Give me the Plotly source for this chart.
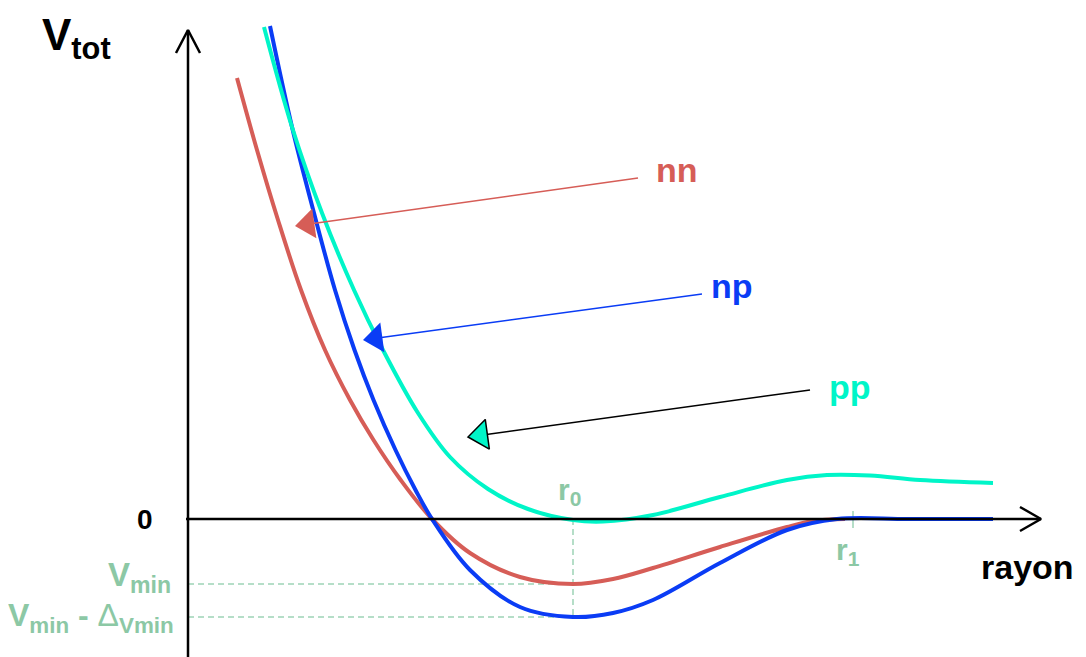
import math
import plotly.graph_objects as go

# Diagram units: the axes cross at (0, 0); 1 unit ~ 1 px of the reference
# curves (r = rayon, v = V_tot)
r_nn = [49, 69, 90, 113, 137, 162, 185.5, 212.7, 244, 282, 332, 385, 425, 465, 532, 599, 625, 657]
v_nn = [441, 369, 299, 229, 169, 119, 79, 39, 0, -34, -58, -65, -60, -49, -28, -8, -2, 0]

r_np = [82, 104, 126, 147, 166.5, 185.5, 207.5, 227.5, 244, 282, 332, 385, 425, 465, 532, 599, 649, 720, 805]
v_np = [493, 392, 306, 229, 169, 119, 69, 29, 0, -51, -88, -98, -94, -81, -44, -11, 0, 0, 0]

r_pp = [76, 104, 134, 166, 195, 230, 262, 300, 340, 385, 415, 465, 532, 599, 639, 682, 732, 805]
v_pp = [492, 392, 306, 229, 169, 106, 62, 30, 10, -1, -2.5, 4, 22, 39, 44, 43.5, 39, 36]

# special points
r0 = 385
r1 = 665
v_min = -65
v_min_delta = -98

# pointer arrows: (label, head colour, line colour, start r, start v, tip r, tip v)
pointers = [
    ("nn", "#d65d57", "#d65d57", 450, 341, 107, 293),
    ("np", "#0a3cf5", "#0a3cf5", 514, 225, 175, 179),
    ("pp", "#00f5c8", "#000000", 622, 129, 280, 82),
]

RED = "#d65d57"
BLUE = "#0a3cf5"
CYAN = "#00f5c8"
GREEN = "#8cc8a5"
GREEN_DASH = "#9dd3b6"
FONT = "Liberation Sans, Arial, sans-serif"

fig = go.Figure()

# dashed guides
guide = dict(color=GREEN_DASH, width=1.5, dash="6px,4px")
fig.add_trace(go.Scatter(x=[0, r0], y=[v_min, v_min], mode="lines", line=guide))
fig.add_trace(go.Scatter(x=[0, r0], y=[v_min_delta, v_min_delta], mode="lines", line=guide))
fig.add_trace(go.Scatter(x=[r0, r0], y=[0, v_min_delta], mode="lines", line=guide))
fig.add_trace(go.Scatter(x=[r1, r1], y=[-9, 8], mode="lines", line=dict(color=GREEN_DASH, width=1.5)))

# curves
for rr, vv, col in [(r_nn, v_nn, RED), (r_np, v_np, BLUE), (r_pp, v_pp, CYAN)]:
    fig.add_trace(go.Scatter(x=rr, y=vv, mode="lines",
                             line=dict(color=col, width=4, shape="spline", smoothing=1)))

# axes with open arrow heads
ax = dict(color="black", width=2.5)
fig.add_trace(go.Scatter(x=[0, 0], y=[-150, 489], mode="lines", line=ax))
fig.add_trace(go.Scatter(x=[-12, 0, 12], y=[466, 489, 466], mode="lines", line=ax))
fig.add_trace(go.Scatter(x=[-2, 853], y=[0, 0], mode="lines", line=ax))
fig.add_trace(go.Scatter(x=[832, 853, 832], y=[12, 0, -12], mode="lines", line=ax))

# pointer arrows
head = 26
for name, col, lcol, x0, y0, x1, y1 in pointers:
    dx, dy = x1 - x0, y1 - y0
    n = math.hypot(dx, dy)
    cx, cy = x1 - dx / n * head / 2, y1 - dy / n * head / 2
    ang = math.degrees(math.atan2(dy, -dx))
    fig.add_trace(go.Scatter(x=[x0, cx], y=[y0, cy], mode="lines", line=dict(color=lcol, width=1.5)))
    fig.add_trace(go.Scatter(
        x=[cx], y=[cy], mode="markers",
        marker=dict(symbol="triangle-left", size=head, angle=ang, color=col,
                    line=dict(color=lcol, width=1.5 if name == "pp" else 0)),
    ))

annots = [
    dict(x=466, y=349.5, text="<b>nn</b>", color=RED, size=34, xanchor="left"),
    dict(x=521, y=233.5, text="<b>np</b>", color=BLUE, size=34, xanchor="left"),
    dict(x=639, y=132, text="<b>pp</b>", color=CYAN, size=34, xanchor="left"),
    dict(x=791, y=-48, text="<b>rayon</b>", color="black", size=34, xanchor="left"),
    dict(x=-33, y=0, text="<b>0</b>", color="black", size=28, xanchor="right"),
    dict(x=-148, y=481, text="<b>V<sub>tot</sub></b>", color="black", size=44, xanchor="left"),
    dict(x=-15, y=-58, text="<b>V<sub>min</sub></b>", color=GREEN, size=33, xanchor="right"),
    dict(x=-12, y=-98, text="<b>V<sub>min</sub> - </b>Δ<sub><b>Vmin</b></sub>", color=GREEN, size=32,
         xanchor="right"),
    dict(x=368, y=28, text="<b>r<sub>0</sub></b>", color=GREEN, size=30, xanchor="left"),
    dict(x=646, y=-32, text="<b>r<sub>1</sub></b>", color=GREEN, size=30, xanchor="left"),
]
for a in annots:
    fig.add_annotation(x=a["x"], y=a["y"], text=a["text"], showarrow=False,
                       xanchor=a["xanchor"], yanchor="middle",
                       font=dict(family=FONT, size=a["size"], color=a["color"]))

# the page body adds an 8 px offset, so the ranges are shifted to keep the origin in place
fig.update_layout(
    width=1086, height=657,
    margin=dict(l=0, r=0, t=0, b=0),
    showlegend=False,
    plot_bgcolor="white", paper_bgcolor="white",
    xaxis=dict(range=[-180, 906], visible=False, fixedrange=True),
    yaxis=dict(range=[-146, 511], visible=False, fixedrange=True),
)

fig.write_html("out.html")
